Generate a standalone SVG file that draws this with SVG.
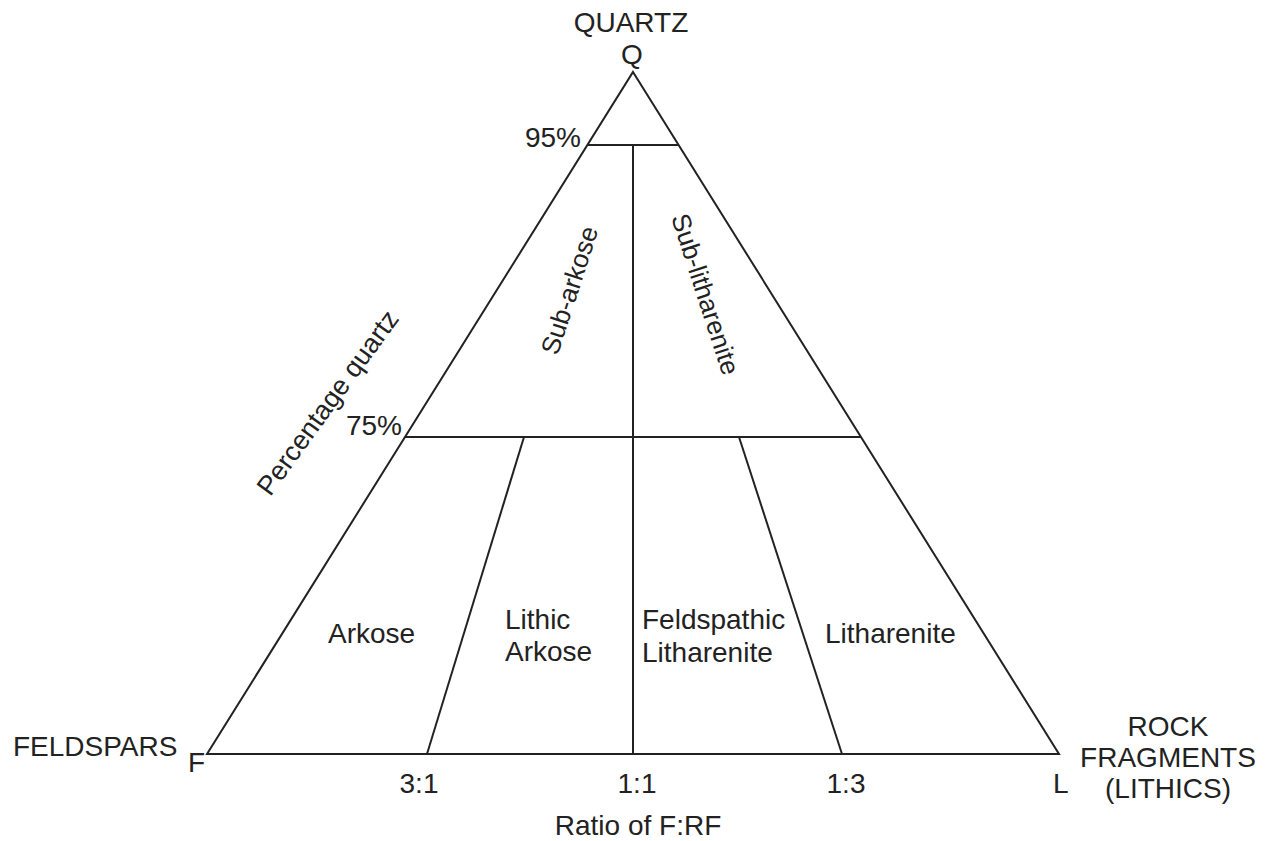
<svg xmlns="http://www.w3.org/2000/svg" width="1269" height="841" viewBox="0 0 1269 841">
<style>
.ln{stroke:#222;stroke-width:2;fill:none;stroke-linejoin:miter}
text{font-family:"Liberation Sans",Arial,sans-serif;font-size:28px;fill:#222}
.r{font-size:26px}
.m{text-anchor:middle}
.e{text-anchor:end}
</style>
<rect width="1269" height="841" fill="#fff"/>
<g id="connectors">
<polygon class="ln" points="633,72 1059,754 207,754"/>
<line class="ln" x1="587" y1="145" x2="679" y2="145"/>
<line class="ln" x1="405" y1="437" x2="861" y2="437"/>
<line class="ln" x1="633" y1="145" x2="633" y2="754"/>
<line class="ln" x1="524" y1="437" x2="427" y2="754"/>
<line class="ln" x1="739" y1="437" x2="842" y2="754"/>
</g>
<g id="apex-Q">
<text class="m" x="631" y="32">QUARTZ</text>
<text class="m" x="632" y="64">Q</text>
</g>
<g id="corner-F">
<text x="13" y="756">FELDSPARS</text>
<text x="188" y="772">F</text>
</g>
<g id="corner-L">
<text x="1053" y="793">L</text>
<text class="m" x="1168" y="736">ROCK</text>
<text class="m" x="1168" y="767">FRAGMENTS</text>
<text class="m" x="1168" y="798">(LITHICS)</text>
</g>
<g id="axis-quartz">
<text class="e" x="581" y="147">95%</text>
<text class="e" x="402" y="435">75%</text>
<text class="m r" transform="translate(335,408) rotate(-54)" style="font-size:27px">Percentage quartz</text>
</g>
<g id="axis-ratio">
<text class="m" x="419" y="793">3:1</text>
<text class="m" x="637" y="793">1:1</text>
<text class="m" x="846" y="793">1:3</text>
<text class="m" x="638" y="835">Ratio of F:RF</text>
</g>
<g id="field-subarkose">
<text class="m r" transform="translate(578,293) rotate(-72)">Sub-arkose</text>
</g>
<g id="field-sublitharenite">
<text class="m r" transform="translate(697,297) rotate(72)">Sub-litharenite</text>
</g>
<g id="field-arkose">
<text x="328" y="643">Arkose</text>
</g>
<g id="field-lithic-arkose">
<text x="505" y="629">Lithic</text>
<text x="505" y="661">Arkose</text>
</g>
<g id="field-feldspathic-litharenite">
<text x="642" y="629">Feldspathic</text>
<text x="642" y="662">Litharenite</text>
</g>
<g id="field-litharenite">
<text x="825" y="643">Litharenite</text>
</g>
</svg>
